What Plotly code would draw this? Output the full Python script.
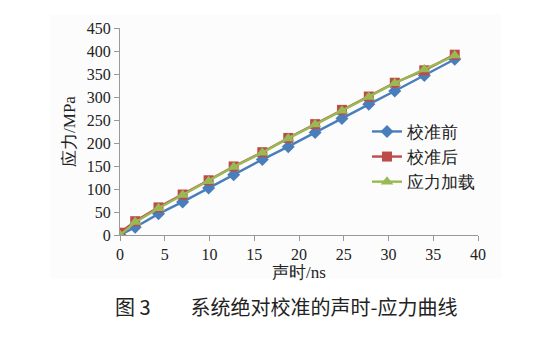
import plotly.graph_objects as go

sound_time = [0, 1.7, 4.3, 7.0, 9.9, 12.7, 15.9, 18.8, 21.8, 24.8, 27.8, 30.7, 34.0, 37.4]
before_cal = [0, 17, 46, 72, 102, 131, 164, 192, 223, 253, 284, 313, 347, 382]
after_cal = [5, 30, 60, 88, 119, 149, 180, 211, 241, 272, 301, 331, 358, 392]
load_stress = [0, 28, 58, 87, 117, 148, 179, 210, 240, 270, 300, 330, 360, 390]

names = ["校准前", "校准后", "应力加载"]
x_ticks = [0, 5, 10, 15, 20, 25, 30, 35, 40]
y_ticks = [0, 50, 100, 150, 200, 250, 300, 350, 400, 450]

serif = "Times New Roman"
cjk = "Times New Roman"

fig = go.Figure()
fig.add_trace(go.Scatter(x=sound_time, y=before_cal, name=names[0], mode="lines+markers",
                         line=dict(color="#4A7EBB", width=2.4),
                         marker=dict(symbol="diamond", size=10, color="#4A7EBB")))
fig.add_trace(go.Scatter(x=sound_time, y=after_cal, name=names[1], mode="lines+markers",
                         line=dict(color="#BE4B48", width=2.4),
                         marker=dict(symbol="square", size=10, color="#BE4B48")))
fig.add_trace(go.Scatter(x=sound_time, y=load_stress, name=names[2], mode="lines+markers",
                         line=dict(color="#98B954", width=2.4),
                         marker=dict(symbol="triangle-up", size=11, color="#98B954")))

fig.update_layout(
    width=547, height=356,
    margin=dict(l=120, r=69, t=28, b=121),
    paper_bgcolor="white", plot_bgcolor="rgba(0,0,0,0)",
    showlegend=True,
    legend=dict(x=0.69, y=0.585, xanchor="left", yanchor="top",
                font=dict(family=cjk, size=17, color="#222"),
                bgcolor="rgba(0,0,0,0)", tracegroupgap=0, itemwidth=30),
    xaxis=dict(range=[0, 40], tickvals=x_ticks, showgrid=False, zeroline=False,
               showline=True, linecolor="#999", linewidth=1,
               ticks="outside", ticklen=5, tickcolor="#999",
               tickfont=dict(family=serif, size=16, color="#222"),
               title=dict(text="声时/ns", font=dict(family=cjk, size=17, color="#222"), standoff=1)),
    yaxis=dict(range=[0, 450], tickvals=y_ticks, showgrid=False, zeroline=False,
               showline=True, linecolor="#999", linewidth=1,
               ticks="outside", ticklen=5, tickcolor="#999",
               tickfont=dict(family=serif, size=16, color="#222"),
               title=dict(text="应力/MPa", font=dict(family=cjk, size=17, color="#222"), standoff=6)),
    shapes=[dict(type="rect", xref="paper", yref="paper", x0=-0.195, x1=1.065, y0=-0.21, y1=1.065,
                 fillcolor="#fcfcfc", line=dict(width=0), layer="below")],
    annotations=[dict(text="图 3　　系统绝对校准的声时-应力曲线", xref="paper", yref="paper",
                      x=0.465, y=-0.345, xanchor="center", yanchor="middle", showarrow=False,
                      font=dict(family="Noto Sans CJK SC", size=20, color="#222"))],
)

fig.write_html("out.html", config={"displayModeBar": False},
               post_script="document.body.style.margin='0';")
